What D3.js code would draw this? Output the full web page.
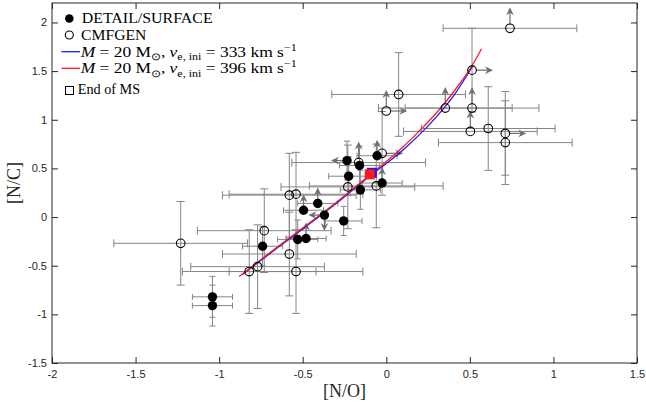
<!DOCTYPE html>
<html><head><meta charset="utf-8">
<script src="https://cdn.jsdelivr.net/npm/d3@7"></script>
<style>body{margin:0;background:#fff}svg{display:block}</style>
</head><body><svg id="c" width="646" height="405"></svg>
<script>
// ---- data ----
const xTicks = [-2, -1.5, -1, -0.5, 0, 0.5, 1, 1.5];
const yTicks = [-1.5, -1, -0.5, 0, 0.5, 1, 1.5, 2];

// DETAIL/SURFACE (filled)
const detailNO    = [-1.04, -1.04, -0.74, -0.53, -0.48, -0.495, -0.41, -0.37, -0.255, -0.235, -0.16, -0.225, -0.155, -0.055, -0.025];
const detailNC    = [-0.82, -0.91, -0.30, -0.23, -0.22, 0.07, 0.14, 0.02, -0.04, 0.58, 0.53, 0.42, 0.28, 0.63, 0.35];
const detailErrNO = [0.12, 0.12, 0.12, 0.12, 0.12, 0.12, 0.12, 0, 0.11, 0, 0.12, 0.12, 0.12, 0.12, 0.12];
const detailErrNC = [0.21, 0.21, 0.2, 0.2, 0, 0, 0, 0, 0.15, 0.2, 0.2, 0.2, 0.2, 0, 0];
const detailLim   = ["", "", "", "", "u", "u", "u", "ld", "", "l", "", "", "", "u", "u"];

// CMFGEN (open)
const cmfNO    = [-1.23, -0.73, -0.58, -0.82, -0.77, -0.54, -0.58, -0.54, -0.23, -0.06, -0.025, -0.165, 0.74, 0.513, 0.353, 0.513, 0.074, 0.0, 0.503, 0.61, 0.712, 0.712];
const cmfNC    = [-0.27, -0.14, -0.38, -0.56, -0.51, -0.56, 0.225, 0.235, 0.31, 0.32, 0.655, 0.56, 1.94, 1.51, 1.12, 1.12, 1.26, 1.09, 0.88, 0.91, 0.86, 0.765];
const cmfErrNO = [0.4, 0.4, 0.4, 0.4, 0.4, 0.4, 0.4, 0.4, 0.4, 0.4, 0, 0.4, 0.4, 0, 0.4, 0.4, 0.4, 0, 0.4, 0.4, 0, 0.4];
const cmfErrNC = [0.43, 0.43, 0.43, 0.43, 0.43, 0.43, 0.43, 0.43, 0.43, 0.43, 0.43, 0, 0, 0.43, 0, 0, 0.43, 0, 0, 0.43, 0.43, 0.43];
const cmfLim   = ["", "", "", "", "", "", "", "", "", "", "r", "u", "u", "r", "u", "u", "", "ur", "u", "", "r", ""];

// evolutionary tracks
const trackBlueNO = [-0.86, -0.70, -0.53, -0.30, -0.10, 0.00, 0.10, 0.20, 0.30, 0.40, 0.52];
const trackBlueNC = [-0.59, -0.38, -0.16, 0.14, 0.42, 0.55, 0.69, 0.85, 1.03, 1.24, 1.56];
const trackRedNO  = [-0.88, -0.70, -0.53, -0.30, -0.10, 0.00, 0.10, 0.20, 0.30, 0.40, 0.50, 0.57];
const trackRedNC  = [-0.61, -0.37, -0.15, 0.15, 0.43, 0.57, 0.72, 0.89, 1.07, 1.28, 1.52, 1.73];

// end of main sequence (blue, red)
const msNO = [-0.086, -0.099];
const msNC = [0.455, 0.439];

// ---- drawing ----
const svg = d3.select("#c");
svg.append("rect").attr("width", 646).attr("height", 405).attr("fill", "#fff");
const L = 52, R = 637, T = 3, B = 363;
const x = d3.scaleLinear().domain([-2, 1.5]).range([L, R]);
const y = d3.scaleLinear().domain([-1.5, 2.2]).range([B, T]);
const axisCol = "#262626";
const sans = "'Liberation Sans', Arial, Helvetica, sans-serif";
const serif = "'Liberation Serif', 'Times New Roman', serif";

function styleAxis(g) {
  g.select(".domain").remove();
  g.selectAll(".tick line").attr("stroke", axisCol).attr("stroke-width", 1);
  g.selectAll(".tick text").attr("fill", axisCol).style("font-family", sans).style("font-size", "11px");
}
const fmt = d => String(d);
svg.append("g").attr("transform", `translate(0,${B})`)
  .call(d3.axisBottom(x).tickValues(xTicks).tickSizeInner(-6).tickSizeOuter(0).tickPadding(7).tickFormat(fmt))
  .call(styleAxis);
svg.append("g").attr("transform", `translate(0,${T})`)
  .call(d3.axisTop(x).tickValues(xTicks).tickSizeInner(-6).tickSizeOuter(0).tickFormat(""))
  .call(styleAxis);
svg.append("g").attr("transform", `translate(${L},0)`)
  .call(d3.axisLeft(y).tickValues(yTicks).tickSizeInner(-6).tickSizeOuter(0).tickPadding(5).tickFormat(fmt))
  .call(styleAxis);
svg.append("g").attr("transform", `translate(${R},0)`)
  .call(d3.axisRight(y).tickValues(yTicks).tickSizeInner(-6).tickSizeOuter(0).tickFormat(""))
  .call(styleAxis);
svg.append("rect").attr("x", L).attr("y", T).attr("width", R - L).attr("height", B - T)
  .attr("fill", "none").attr("stroke", axisCol).attr("stroke-width", 1);

// error bars
const errCol = "#858585";
const gErr = svg.append("g").attr("stroke", errCol).attr("stroke-width", 1).attr("fill", "none");
function errBars(xs, ys, ex, ey, cap) {
  xs.forEach((v, i) => {
    const cx = x(v), cy = y(ys[i]);
    if (ex[i] > 0) {
      const a = x(v - ex[i]), b = x(v + ex[i]);
      gErr.append("line").attr("x1", a).attr("x2", b).attr("y1", cy).attr("y2", cy);
      gErr.append("line").attr("x1", a).attr("x2", a).attr("y1", cy - cap).attr("y2", cy + cap);
      gErr.append("line").attr("x1", b).attr("x2", b).attr("y1", cy - cap).attr("y2", cy + cap);
    }
    if (ey[i] > 0) {
      const a = y(ys[i] - ey[i]), b = y(ys[i] + ey[i]);
      gErr.append("line").attr("x1", cx).attr("x2", cx).attr("y1", a).attr("y2", b);
      gErr.append("line").attr("x1", cx - cap).attr("x2", cx + cap).attr("y1", a).attr("y2", a);
      gErr.append("line").attr("x1", cx - cap).attr("x2", cx + cap).attr("y1", b).attr("y2", b);
    }
  });
}
errBars(cmfNO, cmfNC, cmfErrNO, cmfErrNC, 4);
errBars(detailNO, detailNC, detailErrNO, detailErrNC, 3);

// limit arrows
const arrCol = "#6f6f6f";
const gArr = svg.append("g");
function arrows(xs, ys, lims, len) {
  xs.forEach((v, i) => {
    const cx = x(v), cy = y(ys[i]);
    for (const d of lims[i]) {
      const [dx, dy] = d === "u" ? [0, -1] : d === "d" ? [0, 1] : d === "l" ? [-1, 0] : [1, 0];
      const ex = cx + dx * len, ey = cy + dy * len;
      const px = -dy, py = dx; // perpendicular
      gArr.append("line").attr("x1", cx + dx * 4).attr("y1", cy + dy * 4)
        .attr("x2", ex - dx * 5).attr("y2", ey - dy * 5)
        .attr("stroke", arrCol).attr("stroke-width", 1.2);
      const hl = 8, hw = 3.8, notch = 5.5;
      const pts = [
        [ex, ey],
        [ex - dx * hl + px * hw, ey - dy * hl + py * hw],
        [ex - dx * notch, ey - dy * notch],
        [ex - dx * hl - px * hw, ey - dy * hl - py * hw]
      ];
      gArr.append("polygon").attr("points", pts.map(p => p.join(",")).join(" ")).attr("fill", arrCol);
    }
  });
}
arrows(cmfNO, cmfNC, cmfLim, 21);
arrows(detailNO, detailNC, detailLim, 16);

// tracks
const line = d3.line().x(d => x(d[0])).y(d => y(d[1])).curve(d3.curveCatmullRom.alpha(0.5));
svg.append("path").datum(d3.zip(trackBlueNO, trackBlueNC)).attr("d", line)
  .attr("fill", "none").attr("stroke", "#1a1aff").attr("stroke-width", 1.3);
svg.append("path").datum(d3.zip(trackRedNO, trackRedNC)).attr("d", line)
  .attr("fill", "none").attr("stroke", "#ff1a1a").attr("stroke-width", 1.3);

// end of MS squares
const msCol = ["#1a1aff", "#ff1a1a"];
msNO.forEach((v, i) => {
  svg.append("rect").attr("x", x(v) - 5).attr("y", y(msNC[i]) - 5).attr("width", 10).attr("height", 10)
    .attr("fill", msCol[i]);
});

// markers
svg.append("g").selectAll("circle").data(d3.zip(detailNO, detailNC)).join("circle")
  .attr("cx", d => x(d[0])).attr("cy", d => y(d[1])).attr("r", 4.7).attr("fill", "#000");
svg.append("g").selectAll("circle").data(d3.zip(cmfNO, cmfNC)).join("circle")
  .attr("cx", d => x(d[0])).attr("cy", d => y(d[1])).attr("r", 4.3)
  .attr("fill", "none").attr("stroke", "#000").attr("stroke-width", 1.1);

// axis labels
function fitText(sel, w) {
  const n = sel.node(); const cur = n.getComputedTextLength();
  return cur;
}
const xl = svg.append("text").attr("x", 344.5).attr("y", 396.5).attr("text-anchor", "middle")
  .style("font-family", serif).style("font-size", "18px").attr("fill", axisCol).text("[N/O]");
const yl = svg.append("text").attr("transform", "translate(20,183) rotate(-90)").attr("text-anchor", "middle")
  .style("font-family", serif).style("font-size", "18px").attr("fill", axisCol).text("[N/C]");

// legend
const lg = svg.append("g");
lg.append("circle").attr("cx", 69.3).attr("cy", 18.5).attr("r", 4.3).attr("fill", "#000");
lg.append("circle").attr("cx", 69.3).attr("cy", 35).attr("r", 4).attr("fill", "none").attr("stroke", "#000").attr("stroke-width", 1.1);
lg.append("line").attr("x1", 61.5).attr("x2", 80).attr("y1", 51.7).attr("y2", 51.7).attr("stroke", "#1a1aff").attr("stroke-width", 1.3);
lg.append("line").attr("x1", 61.5).attr("x2", 80).attr("y1", 68.3).attr("y2", 68.3).attr("stroke", "#ff1a1a").attr("stroke-width", 1.3);
lg.append("rect").attr("x", 65.5).attr("y", 86.5).attr("width", 8).attr("height", 8).attr("fill", "none").attr("stroke", "#000").attr("stroke-width", 1);

function legText(x0, yb, w, build) {
  const g = lg.append("g");
  const t = g.append("text").attr("x", 0).attr("y", 0).style("font-family", serif).style("font-size", "14.5px").attr("fill", "#000");
  build(t);
  const cw = t.node().getComputedTextLength();
  g.attr("transform", `translate(${x0},${yb}) scale(${w / cw},1)`);
}
legText(81.7, 23.3, 131, t => t.text("DETAIL/SURFACE"));
legText(81, 39.6, 65.5, t => t.text("CMFGEN"));
function mathLine(t, val) {
  t.append("tspan").style("font-style", "italic").text("M");
  t.append("tspan").text(" = 20 M");
  t.append("tspan").attr("dy", 3.5).style("font-size", "10px").text("\u2299");
  t.append("tspan").attr("dy", -3.5).text(", ");
  t.append("tspan").style("font-style", "italic").text("v");
  t.append("tspan").attr("dy", 3.5).style("font-size", "10px").text("e, ini");
  t.append("tspan").attr("dy", -3.5).text("  =  " + val + " km s");
  t.append("tspan").attr("dy", -6).style("font-size", "10px").text("\u22121");
}
const speeds = ["333", "396"];
legText(80.7, 56.7, 216, t => mathLine(t, speeds[0]));
legText(80.7, 73.3, 216, t => mathLine(t, speeds[1]));
legText(77.7, 94.3, 62.5, t => t.text("End of MS"));
</script></body></html>
